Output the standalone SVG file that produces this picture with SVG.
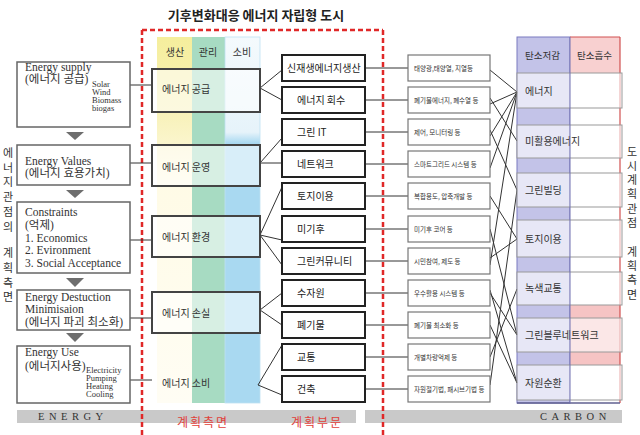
<svg xmlns="http://www.w3.org/2000/svg" width="640" height="435" viewBox="0 0 640 435">
<defs>
<linearGradient id="gProd" x1="0" y1="0" x2="0" y2="1">
<stop offset="0" stop-color="#f5ee9c"/><stop offset="0.22" stop-color="#f8f2bc"/><stop offset="0.4" stop-color="#fffbe6"/><stop offset="1" stop-color="#fffdf4"/>
</linearGradient>
<linearGradient id="gCons" x1="0" y1="0" x2="0" y2="1">
<stop offset="0" stop-color="#f4fafd"/><stop offset="0.26" stop-color="#e6f3fa"/><stop offset="0.29" stop-color="#a9d9f1"/><stop offset="1" stop-color="#a9d9f1"/>
</linearGradient>
</defs>
<style>
.en{font-family:"Liberation Serif","Noto Sans CJK KR",serif;font-size:11.5px;fill:#333}
.sm{font-family:"Liberation Serif",serif;font-size:8.5px;fill:#333}
.ko{font-family:"Noto Sans CJK KR",sans-serif;fill:#333}
.lbox{fill:#fff;stroke:#666;stroke-width:1.5}
.mbox{fill:#fff;fill-opacity:0.55;stroke:#444;stroke-width:2}
.sbox{fill:#fff;stroke:#222;stroke-width:2}
.tbox{fill:#fff;stroke:#777;stroke-width:1.2}
.cbox{fill:#fff;fill-opacity:0.6;stroke:#999;stroke-width:1}
.tri{fill:#6e6e6e}
.ln{stroke:#333;stroke-width:1;fill:none}
.bar{fill:#c9c9c9}
.red{font-family:"Noto Sans CJK KR",sans-serif;font-size:12px;fill:#e0403a;letter-spacing:2px}
.vt{font-family:"Noto Sans CJK KR",sans-serif;font-size:11px;fill:#333;text-anchor:middle}
.t7{font-family:"Noto Sans CJK KR",sans-serif;font-size:6.5px;fill:#333}
.s10{font-family:"Noto Sans CJK KR",sans-serif;font-size:10px;fill:#222}
</style>
<rect width="640" height="435" fill="#fff"/>

<!-- title -->
<text x="256" y="20" text-anchor="middle" style="font-family:'Noto Sans CJK KR',sans-serif;font-size:13px;font-weight:bold;fill:#222">기후변화대응 에너지 자립형 도시</text>

<!-- middle column backgrounds -->
<g id="columns">
<rect x="157" y="37" width="35" height="366" fill="url(#gProd)"/>
<rect x="192" y="37" width="33" height="366" fill="#a7dbc2"/>
<rect x="225" y="37" width="35" height="366" fill="url(#gCons)" stroke="#bfe2f3" stroke-width="0.8"/>
<text class="ko" x="175" y="56" font-size="10" text-anchor="middle">생산</text>
<text class="ko" x="208" y="56" font-size="10" text-anchor="middle">관리</text>
<text class="ko" x="242" y="56" font-size="10" text-anchor="middle">소비</text>
</g>

<!-- bottom bars -->
<rect class="bar" x="17" y="410" width="339" height="13"/>
<rect class="bar" x="365" y="410" width="257" height="13"/>
<text x="38" y="420" style="font-family:'Liberation Serif',serif;font-size:10.5px;fill:#333;letter-spacing:4.5px">ENERGY</text>
<text x="540" y="420" style="font-family:'Liberation Serif',serif;font-size:10.5px;fill:#333;letter-spacing:4.5px">CARBON</text>
<text class="red" x="177" y="427">계획측면</text>
<text class="red" x="291" y="427">계획부문</text>

<!-- red dashed frame -->
<path d="M142,30 H383 M142,30 V435 M383,30 V435" fill="none" stroke="#e02828" stroke-width="2.5" stroke-dasharray="5,3"/>

<!-- vertical side texts -->
<g id="leftVertical">
<text class="vt" x="8" y="157">에</text><text class="vt" x="8" y="172">너</text><text class="vt" x="8" y="186">지</text>
<text class="vt" x="8" y="201">관</text><text class="vt" x="8" y="216">점</text><text class="vt" x="8" y="231">의</text>
<text class="vt" x="8" y="257">계</text><text class="vt" x="8" y="272">획</text><text class="vt" x="8" y="287">측</text><text class="vt" x="8" y="301">면</text>
</g>
<g id="rightVertical">
<text class="vt" x="632" y="156">도</text><text class="vt" x="632" y="170">시</text><text class="vt" x="632" y="184">계</text>
<text class="vt" x="632" y="198">획</text><text class="vt" x="632" y="213">관</text><text class="vt" x="632" y="227">점</text>
<text class="vt" x="632" y="256">계</text><text class="vt" x="632" y="270">획</text><text class="vt" x="632" y="284">측</text><text class="vt" x="632" y="299">면</text>
</g>

<!-- carbon columns -->
<g id="carbonColumns">
<rect x="517" y="37" width="53" height="366" fill="#c3c3e8" stroke="#7b7bc0" stroke-width="1"/>
<rect x="570" y="37" width="50" height="366" fill="#fff"/>
<rect x="570" y="37" width="50" height="36" fill="#f8d0d0"/>
<rect x="570" y="305" width="50" height="60" fill="#f6c4c4"/>
<line x1="620" y1="37" x2="620" y2="403" stroke="#d05050" stroke-width="1.2"/>
<line x1="570" y1="37" x2="620" y2="37" stroke="#d05050" stroke-width="1"/>
<line x1="517" y1="403" x2="620" y2="403" stroke="#606090" stroke-width="1.5"/>
<text class="ko" x="525" y="59" font-size="9.5">탄소저감</text>
<text class="ko" x="577" y="59" font-size="9.5">탄소흡수</text>
</g>

<!-- connectors -->
<g id="connectors" class="ln">
<line x1="130" y1="85" x2="152" y2="85"/>
<line x1="130" y1="163" x2="152" y2="163"/>
<line x1="130" y1="240" x2="152" y2="240"/>
<line x1="130" y1="318" x2="152" y2="318"/>
<line x1="130" y1="380" x2="152" y2="380"/>
<path d="M282,70 L260,88 L282,100"/>
<path d="M282,138 L260,163 H282"/>
<path d="M282,187 L260,235 L282,240 M260,235 L282,265"/>
<path d="M282,293 L260,310 L282,325"/>
<path d="M282,345 L258,385 L282,395"/>
<line x1="365" y1="68" x2="408" y2="68"/>
<line x1="365" y1="100" x2="408" y2="100"/>
<line x1="365" y1="132" x2="408" y2="132"/>
<line x1="365" y1="164" x2="408" y2="164"/>
<line x1="365" y1="196" x2="408" y2="196"/>
<line x1="365" y1="229" x2="408" y2="229"/>
<line x1="365" y1="261" x2="408" y2="261"/>
<line x1="365" y1="293" x2="408" y2="293"/>
<line x1="365" y1="325" x2="408" y2="325"/>
<line x1="365" y1="357" x2="408" y2="357"/>
<line x1="365" y1="389" x2="408" y2="389"/>
<line x1="490" y1="70" x2="517" y2="92"/>
<line x1="490" y1="104" x2="517" y2="92"/>
<line x1="490" y1="98" x2="517" y2="141"/>
<line x1="490" y1="136" x2="517" y2="92"/>
<line x1="490" y1="130" x2="517" y2="190"/>
<line x1="490" y1="168" x2="517" y2="92"/>
<line x1="490" y1="196" x2="517" y2="239"/>
<line x1="490" y1="229" x2="517" y2="335"/>
<line x1="490" y1="265" x2="517" y2="92"/>
<line x1="490" y1="258" x2="517" y2="239"/>
<line x1="490" y1="293" x2="517" y2="335"/>
<line x1="490" y1="290" x2="517" y2="383"/>
<line x1="490" y1="325" x2="517" y2="383"/>
<line x1="490" y1="357" x2="517" y2="289"/>
<line x1="490" y1="385" x2="517" y2="190"/>
</g>

<!-- left energy boxes -->
<g id="energySupply">
<rect class="lbox" x="17" y="62" width="113" height="65"/>
<text class="en" x="25" y="71">Energy supply</text>
<text class="en" x="25" y="83" font-size="10.5">(에너지 공급)</text>
<text class="sm" x="92" y="87">Solar</text>
<text class="sm" x="92" y="95">Wind</text>
<text class="sm" x="92" y="103">Biomass</text>
<text class="sm" x="92" y="111">biogas</text>
</g>
<polygon class="tri" points="66,132 84,132 75,140"/>
<g id="energyValues">
<rect class="lbox" x="17" y="145" width="113" height="40"/>
<text class="en" x="25" y="165">Energy Values</text>
<text class="en" x="25" y="177" font-size="10.5">(에너지 효용가치)</text>
</g>
<polygon class="tri" points="66,190 84,190 75,198"/>
<g id="constraints">
<rect class="lbox" x="17" y="202" width="113" height="71"/>
<text class="en" x="25" y="216">Constraints</text>
<text class="en" x="25" y="229" font-size="10.5">(억제)</text>
<text class="en" x="25" y="242">1. Economics</text>
<text class="en" x="25" y="254">2. Evironment</text>
<text class="en" x="25" y="267">3. Social Acceptance</text>
</g>
<polygon class="tri" points="66,278 84,278 75,287"/>
<g id="energyDestruction">
<rect class="lbox" x="17" y="290" width="113" height="40"/>
<text class="en" x="25" y="301" font-size="10.5">Energy Destuction</text>
<text class="en" x="25" y="313" font-size="10.5">Minimisaion</text>
<text class="en" x="25" y="326" font-size="10">(에너지 파괴 최소화)</text>
</g>
<polygon class="tri" points="66,333 84,333 75,342"/>
<g id="energyUse">
<rect class="lbox" x="17" y="346" width="113" height="57"/>
<text class="en" x="25" y="356">Energy Use</text>
<text class="en" x="25" y="370" font-size="9.5">(에너지사용)</text>
<text class="sm" x="86" y="373">Electricity</text>
<text class="sm" x="86" y="381">Pumping</text>
<text class="sm" x="86" y="389">Heating</text>
<text class="sm" x="86" y="397">Cooling</text>
</g>

<!-- middle boxes -->
<g id="midSupply"><rect class="mbox" x="152" y="69" width="108" height="43"/><text class="ko" x="162" y="93" font-size="10">에너지 공급</text></g>
<g id="midOperation"><rect class="mbox" x="152" y="145" width="108" height="41"/><text class="ko" x="162" y="171" font-size="10">에너지 운영</text></g>
<g id="midEnvironment"><rect class="mbox" x="152" y="216" width="108" height="41"/><text class="ko" x="162" y="241" font-size="10">에너지 환경</text></g>
<g id="midLoss"><rect class="mbox" x="152" y="292" width="108" height="41"/><text class="ko" x="162" y="317" font-size="10">에너지 손실</text></g>
<g id="midConsumption"><text class="ko" x="162" y="387" font-size="10">에너지 소비</text></g>

<!-- sub boxes -->
<g id="s1"><rect class="sbox" x="282" y="55" width="83" height="26"/><text class="s10" x="287" y="72" font-size="9.3">신재생에너지생산</text></g>
<g id="s2"><rect class="sbox" x="282" y="87" width="83" height="26"/><text class="s10" x="297" y="104">에너지 회수</text></g>
<g id="s3"><rect class="sbox" x="282" y="119" width="83" height="26"/><text class="s10" x="297" y="136">그린 IT</text></g>
<g id="s4"><rect class="sbox" x="282" y="151" width="83" height="26"/><text class="s10" x="297" y="168">네트워크</text></g>
<g id="s5"><rect class="sbox" x="282" y="183" width="83" height="26"/><text class="s10" x="297" y="200">토지이용</text></g>
<g id="s6"><rect class="sbox" x="282" y="216" width="83" height="26"/><text class="s10" x="297" y="233">미기후</text></g>
<g id="s7"><rect class="sbox" x="282" y="248" width="83" height="26"/><text class="s10" x="297" y="265">그린커뮤니티</text></g>
<g id="s8"><rect class="sbox" x="282" y="280" width="83" height="26"/><text class="s10" x="297" y="297">수자원</text></g>
<g id="s9"><rect class="sbox" x="282" y="312" width="83" height="26"/><text class="s10" x="297" y="329">폐기물</text></g>
<g id="s10"><rect class="sbox" x="282" y="344" width="83" height="26"/><text class="s10" x="297" y="361">교통</text></g>
<g id="s11"><rect class="sbox" x="282" y="376" width="83" height="26"/><text class="s10" x="297" y="393">건축</text></g>

<!-- detail text boxes -->
<g id="t1"><rect class="tbox" x="408" y="55" width="82" height="26"/><text class="t7" x="414" y="71">태양광,태양열, 지열등</text></g>
<g id="t2"><rect class="tbox" x="408" y="87" width="82" height="26"/><text class="t7" x="414" y="103">폐기물에너지, 폐수열 등</text></g>
<g id="t3"><rect class="tbox" x="408" y="119" width="82" height="26"/><text class="t7" x="414" y="135">제어, 모니터링 등</text></g>
<g id="t4"><rect class="tbox" x="408" y="151" width="82" height="26"/><text class="t7" x="414" y="167">스마트그리드 시스템 등</text></g>
<g id="t5"><rect class="tbox" x="408" y="183" width="82" height="26"/><text class="t7" x="414" y="199">복합용도, 압축개발 등</text></g>
<g id="t6"><rect class="tbox" x="408" y="216" width="82" height="26"/><text class="t7" x="414" y="232">미기후 코어 등</text></g>
<g id="t7"><rect class="tbox" x="408" y="248" width="82" height="26"/><text class="t7" x="414" y="264">시민참여, 제도 등</text></g>
<g id="t8"><rect class="tbox" x="408" y="280" width="82" height="26"/><text class="t7" x="414" y="296">우수활용 시스템 등</text></g>
<g id="t9"><rect class="tbox" x="408" y="312" width="82" height="26"/><text class="t7" x="414" y="328">폐기물 최소화 등</text></g>
<g id="t10"><rect class="tbox" x="408" y="344" width="82" height="26"/><text class="t7" x="414" y="360">개별차량억제 등</text></g>
<g id="t11"><rect class="tbox" x="408" y="376" width="82" height="26"/><text class="t7" x="414" y="392">자원절기법, 패시브기법 등</text></g>

<!-- carbon boxes -->
<g id="cEnergy"><rect class="cbox" x="517" y="73" width="105" height="35"/><text class="ko" x="525" y="95" font-size="10">에너지</text></g>
<g id="cUnused"><rect class="cbox" x="517" y="125" width="105" height="33"/><text class="ko" x="525" y="145" font-size="10">미활용에너지</text></g>
<g id="cBuilding"><rect class="cbox" x="517" y="173" width="105" height="34"/><text class="ko" x="525" y="194" font-size="10">그린빌딩</text></g>
<g id="cLand"><rect class="cbox" x="517" y="220" width="105" height="37"/><text class="ko" x="525" y="243" font-size="10">토지이용</text></g>
<g id="cTransport"><rect class="cbox" x="517" y="272" width="105" height="33"/><text class="ko" x="525" y="292" font-size="10">녹색교통</text></g>
<g id="cNetwork"><rect class="cbox" x="517" y="318" width="105" height="34"/><text class="ko" x="525" y="339" font-size="10">그린블루네트워크</text></g>
<g id="cResource"><rect class="cbox" x="517" y="365" width="105" height="35"/><text class="ko" x="525" y="387" font-size="10">자원순환</text></g>
<line x1="570" y1="37" x2="570" y2="403" stroke="#7070b0" stroke-width="1"/>
</svg>
